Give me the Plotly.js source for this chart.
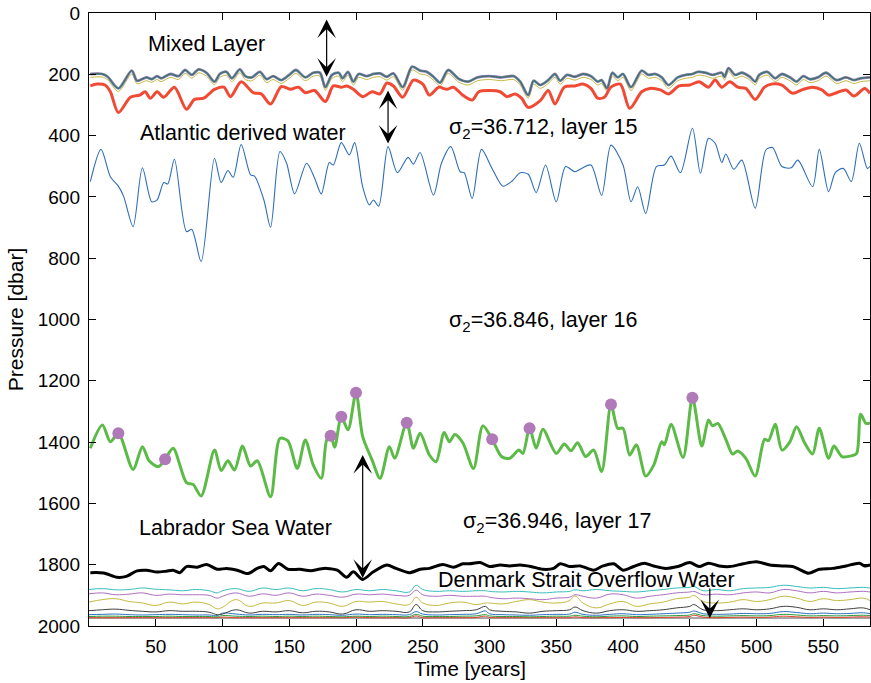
<!DOCTYPE html>
<html>
<head>
<meta charset="utf-8">
<script src="https://cdn.plot.ly/plotly-3.0.1.min.js"></script>
<style>html,body{margin:0;padding:0;background:#fff;}#chart{width:871px;height:683px;}</style>
</head>
<body>
<div id="chart"></div>
<script>
// ---------- Mixed layer group (top) ----------
const topYears = [1,10,14,22,32,36,43,47,51,54,61,67,72,77,82,88,94,98,103,107,113,117,122,128,133,138,144,150,155,162,168,173,177,182,187,190,194,198,202,208,213,218,223,228,235,242,248,253,258,263,269,277,284,291,300,309,318,323,329,333,338,344,349,353,358,364,370,376,381,384,388,392,396,400,406,414,419,424,429,434,441,447,452,456,462,467,474,476,479,484,489,495,499,502,508,514,519,525,530,535,540,546,552,560,567,573,578,585];
const topGray = [199,199,208,246,188,221,210,216,206,213,199,206,186,202,184,195,224,199,192,213,184,206,210,192,216,206,219,202,186,210,195,195,242,202,195,213,192,224,199,206,199,197,208,197,242,175,188,192,208,227,186,215,224,210,206,210,206,224,268,221,235,219,199,221,202,208,199,206,224,219,246,195,210,199,242,188,202,199,210,235,210,202,199,192,195,202,195,208,180,202,195,208,224,202,192,213,199,210,224,206,216,210,195,219,210,219,213,210];
const topOlive = [210,209,218,256,199,231,221,226,217,224,210,217,197,213,195,206,234,210,203,224,195,217,221,203,227,217,230,213,197,221,206,206,252,213,206,224,203,235,210,217,210,208,219,208,252,186,199,203,219,238,197,226,235,221,217,221,217,235,278,232,246,230,210,232,213,219,210,217,235,230,256,206,221,210,253,199,213,210,221,246,221,213,210,203,206,213,206,219,191,213,206,219,235,213,203,224,210,221,235,217,227,221,206,230,221,230,224,221];

// ---------- Red interface ----------
const redYears = [1,6,12,16,22,31,38,42,46,51,56,64,73,79,86,94,101,106,114,123,129,136,144,151,157,162,169,177,183,189,193,198,205,212,218,223,228,235,243,250,255,262,268,273,280,287,292,300,308,313,319,324,329,338,344,349,356,364,370,376,381,386,391,398,405,414,420,428,434,442,450,457,464,469,474,480,486,492,499,506,511,519,527,535,542,549,554,560,567,573,581,585];
const redP = [238,232,235,257,325,275,268,257,278,257,275,242,314,282,278,249,242,273,224,260,264,297,240,249,242,260,253,289,238,242,238,249,273,257,264,229,238,275,219,232,268,242,249,242,268,284,257,253,257,273,264,278,308,286,253,297,242,238,232,246,278,275,242,232,311,257,246,251,264,238,235,224,242,219,242,224,242,246,282,242,232,235,262,249,242,251,268,260,251,271,246,262];

// ---------- Blue interface (sigma2 = 36.712) ----------
const blueYears = [1,9,16,22,26,33,40,47,51,56,59,64,73,77,84,94,99,104,108,114,121,124,131,136,143,148,154,163,169,174,180,183,189,195,199,205,210,213,217,224,231,239,243,248,258,264,271,278,281,287,294,302,310,317,323,329,335,342,350,357,364,369,376,384,391,400,406,411,417,425,431,436,443,452,458,464,469,474,477,483,489,499,507,512,519,526,531,542,547,554,559,565,571,577,583,585];
const blueP = [550,445,534,565,599,697,505,616,610,553,558,477,713,706,811,474,553,514,536,429,528,532,610,699,452,490,590,490,539,590,488,496,423,463,423,567,626,610,630,436,521,471,493,455,594,490,436,518,521,605,445,508,565,548,521,526,586,496,616,501,518,507,496,595,431,496,616,567,654,501,496,467,521,376,523,409,425,488,460,510,480,637,447,439,501,505,480,567,445,583,521,507,550,425,507,500];

// ---------- Green interface (sigma2 = 36.846) ----------
const greenYears = [1,10,16,22,33,40,45,52,57,63,73,78,84,94,99,104,109,115,121,126,136,143,149,156,162,168,174,178,181,184,189,194,200,205,212,218,225,229,238,243,248,255,260,266,270,274,280,288,295,302,309,315,322,325,330,335,340,350,356,361,366,372,378,384,391,396,400,405,410,417,423,429,431,436,445,452,459,464,467,471,477,482,486,492,499,506,509,514,519,525,530,536,542,547,554,558,564,571,575,578,582,585];
const greenP = [1420,1344,1399,1371,1489,1415,1461,1480,1456,1420,1532,1538,1576,1426,1493,1461,1491,1413,1478,1461,1578,1388,1396,1486,1393,1475,1518,1393,1379,1417,1317,1360,1239,1382,1458,1518,1415,1453,1337,1420,1371,1442,1464,1369,1399,1375,1402,1486,1347,1391,1447,1453,1426,1437,1355,1420,1358,1437,1406,1428,1402,1447,1426,1496,1277,1355,1355,1442,1409,1511,1475,1399,1409,1342,1450,1255,1413,1328,1347,1339,1391,1439,1429,1453,1511,1391,1395,1342,1426,1399,1350,1402,1439,1355,1453,1413,1447,1445,1437,1309,1339,1337];
const dotYears = [22,57,181,189,200,238,302,330,391,452];
const dotP = [1371,1456,1379,1317,1239,1337,1391,1355,1277,1255];

// ---------- Black interface (sigma2 = 36.946) ----------
const blackYears = [1,11,21,28,36,43,51,58,63,68,73,81,88,96,103,111,119,126,131,136,142,149,158,166,173,178,186,193,198,205,213,223,230,240,248,255,265,273,280,285,293,300,308,315,323,331,340,348,353,360,368,378,385,393,400,408,416,423,432,441,450,457,464,472,480,490,500,510,519,527,532,539,547,557,567,577,581,585];
const blackP = [1826,1827,1841,1838,1820,1818,1824,1821,1818,1826,1806,1808,1799,1815,1812,1818,1829,1812,1806,1820,1796,1815,1815,1820,1814,1812,1818,1841,1823,1848,1823,1801,1812,1826,1815,1812,1799,1808,1797,1797,1793,1806,1801,1804,1801,1806,1815,1812,1797,1806,1804,1818,1804,1797,1818,1806,1795,1804,1812,1806,1793,1806,1795,1804,1806,1797,1790,1801,1804,1806,1815,1828,1815,1812,1804,1795,1804,1801];

// ---------- Deep layers (Denmark Strait Overflow Water) ----------
const deepYears = [0,10,20,30,40,50,60,70,80,90,96,100,110,120,130,140,150,160,170,180,190,200,210,220,230,240,245,250,260,270,280,290,297,300,310,320,330,340,350,360,364,370,380,390,400,410,420,430,440,450,453,460,470,480,490,500,510,520,530,540,550,560,570,580,585];
const deepCyan = [1881,1878,1882,1881,1876,1880,1882,1885,1881,1885,1892,1885,1878,1887,1876,1881,1876,1885,1878,1881,1889,1881,1885,1881,1885,1889,1867,1881,1887,1885,1887,1885,1885,1887,1889,1887,1889,1892,1889,1887,1882,1885,1881,1885,1887,1889,1885,1881,1876,1874,1871,1885,1881,1885,1878,1876,1874,1867,1871,1876,1874,1878,1876,1874,1876];
const deepPurple = [1895,1892,1898,1896,1892,1900,1896,1898,1898,1900,1909,1903,1892,1903,1895,1900,1892,1903,1896,1900,1906,1896,1898,1896,1900,1900,1883,1898,1903,1900,1903,1903,1903,1906,1911,1909,1911,1914,1909,1906,1898,1903,1909,1896,1898,1909,1903,1898,1892,1889,1887,1898,1896,1898,1892,1889,1892,1881,1885,1892,1887,1892,1889,1887,1889];
const deepOlive = [1922,1914,1911,1920,1925,1933,1922,1928,1922,1930,1944,1939,1914,1936,1925,1925,1917,1933,1922,1925,1936,1920,1922,1920,1928,1930,1906,1925,1933,1925,1922,1930,1925,1925,1928,1920,1914,1922,1925,1917,1902,1925,1941,1928,1920,1936,1928,1922,1911,1906,1900,1920,1925,1922,1914,1920,1914,1903,1909,1920,1911,1917,1914,1909,1917];
const deepBlack = [1950,1947,1945,1949,1952,1954,1950,1952,1952,1955,1963,1961,1947,1958,1952,1954,1950,1957,1952,1954,1961,1947,1952,1950,1952,1954,1930,1950,1954,1952,1950,1947,1936,1947,1952,1954,1958,1952,1950,1947,1938,1950,1958,1950,1947,1952,1950,1947,1941,1936,1930,1947,1950,1947,1944,1947,1944,1936,1939,1947,1944,1947,1944,1941,1947];
const deepBlue = [1963,1962,1961,1963,1964,1963,1962,1963,1964,1964,1966,1958,1961,1964,1962,1963,1962,1964,1962,1963,1965,1961,1963,1962,1963,1963,1953,1961,1964,1963,1962,1960,1951,1960,1963,1964,1965,1963,1962,1961,1955,1962,1965,1962,1960,1963,1962,1960,1958,1955,1951,1960,1962,1961,1959,1960,1959,1953,1956,1960,1958,1960,1959,1957,1960];
const deepGreen = [1969,1968,1968,1969,1969,1969,1968,1969,1969,1969,1970,1966,1968,1969,1968,1969,1968,1969,1968,1969,1970,1968,1969,1968,1969,1969,1962,1968,1969,1969,1968,1967,1963,1967,1969,1969,1970,1969,1968,1968,1965,1968,1970,1968,1967,1969,1968,1967,1966,1964,1960,1966,1968,1967,1966,1967,1966,1962,1964,1967,1966,1967,1966,1965,1966];
const deepRed = [1973,1973,1973,1973,1973,1973,1973,1973,1973,1973,1973,1971,1973,1973,1973,1973,1973,1973,1973,1973,1973,1971,1973,1973,1973,1973,1967,1973,1973,1973,1973,1972,1968,1972,1973,1973,1973,1973,1973,1973,1970,1973,1973,1973,1972,1973,1973,1972,1971,1969,1965,1971,1973,1972,1971,1972,1971,1968,1970,1972,1971,1972,1971,1970,1971];
const bottomYears = [0,585];
const bottomGray = [1974,1974];

// ---------- Ticks ----------
const xTicks = [50,100,150,200,250,300,350,400,450,500,550];
const yTicks = [0,200,400,600,800,1000,1200,1400,1600,1800,2000];

const FONT = 'Liberation Sans, Arial, Helvetica, sans-serif';

function line(x, y, color, width, smooth) {
  return {x: x, y: y, type: 'scatter', mode: 'lines', hoverinfo: 'skip',
          line: {color: color, width: width, shape: 'spline', smoothing: smooth || 0.8}};
}

const traces = [
  line(bottomYears, bottomGray, '#505050', 1),
  line(deepYears, deepRed, '#e2402c', 1, 1.2),
  line(deepYears, deepGreen, '#2a9a3a', 1, 1.2),
  line(deepYears, deepBlue, '#2f6fc0', 1, 1.2),
  line(deepYears, deepBlack, '#404040', 1, 1.2),
  line(deepYears, deepOlive, '#c4ba40', 1, 1.2),
  line(deepYears, deepPurple, '#ad6fbf', 1, 1.2),
  line(deepYears, deepCyan, '#38bdbd', 1, 1.2),
  line(topYears, topOlive, '#c4ba40', 1),
  line(topYears, topGray, '#b07ab9', 2.8),
  line(topYears, topGray, '#3a98a0', 1.9),
  line(topYears, topGray, '#5a5a5a', 1),
  line(redYears, redP, '#f04a35', 3),
  line(blueYears, blueP, '#2e6db8', 1.1),
  line(greenYears, greenP, '#5cba47', 3),
  line(blackYears, blackP, '#000000', 3),
  {x: dotYears, y: dotP, type: 'scatter', mode: 'markers', hoverinfo: 'skip',
   marker: {color: '#b07ab9', size: 12, line: {width: 0}}}
];

function label(x, y, text, anchor) {
  return {x: x, y: y, xref: 'x', yref: 'y', text: text, showarrow: false,
          xanchor: anchor || 'center', yanchor: 'middle',
          font: {family: FONT, size: 21.5, color: '#000'}};
}
function arrow(x, yHead, yTail, both) {
  return {x: x, y: yHead, ax: x, ay: yTail, xref: 'x', yref: 'y', axref: 'x', ayref: 'y',
          text: '', showarrow: true, arrowhead: 3, startarrowhead: 3, arrowsize: 2.6, startarrowsize: 2.6,
          arrowwidth: 1.2, arrowcolor: '#000', arrowside: both ? 'end+start' : 'end',
          standoff: 0, startstandoff: 0};
}

const layout = {
  width: 871, height: 683,
  margin: {l: 89, r: 1, t: 13, b: 57, pad: 0},
  paper_bgcolor: '#fff', plot_bgcolor: '#fff',
  showlegend: false,
  font: {family: FONT, size: 19, color: '#000'},
  xaxis: {
    range: [0, 585], tickvals: xTicks, ticks: 'inside', ticklen: 7, tickwidth: 1, tickcolor: '#000',
    showline: true, linecolor: '#000', linewidth: 1.2, mirror: 'ticks', showgrid: false, zeroline: false,
    tickfont: {family: FONT, size: 19}, ticklabelstandoff: 3
  },
  yaxis: {
    range: [2000, 0], tickvals: yTicks, ticks: 'inside', ticklen: 7, tickwidth: 1, tickcolor: '#000',
    showline: true, linecolor: '#000', linewidth: 1.2, mirror: 'ticks', showgrid: false, zeroline: false,
    tickfont: {family: FONT, size: 19}, ticklabelstandoff: 4,
    title: {text: 'Pressure [dbar]', font: {family: FONT, size: 21}, standoff: 8}
  },
  annotations: [
    {x: 0.488, y: -0.047, xref: 'paper', yref: 'paper', text: 'Time [years]', showarrow: false,
     xanchor: 'center', yanchor: 'top', font: {family: FONT, size: 20.5, color: '#000'}},
    label(88, 101, 'Mixed Layer'),
    label(115, 392, 'Atlantic derived water'),
    label(268, 378, 'σ<sub>2</sub>=36.712, layer 15', 'left'),
    label(268, 1008, 'σ<sub>2</sub>=36.846, layer 16', 'left'),
    label(279, 1661, 'σ<sub>2</sub>=36.946, layer 17', 'left'),
    label(110, 1680, 'Labrador Sea Water'),
    label(260, 1850, 'Denmark Strait Overflow Water', 'left'),
    arrow(178, 21, 213, true),
    arrow(224, 253, 431, true),
    arrow(205, 1442, 1848, true),
    arrow(465, 1975, 1873, false)
  ]
};

Plotly.newPlot('chart', traces, layout, {staticPlot: true, displayModeBar: false});
</script>
</body>
</html>
